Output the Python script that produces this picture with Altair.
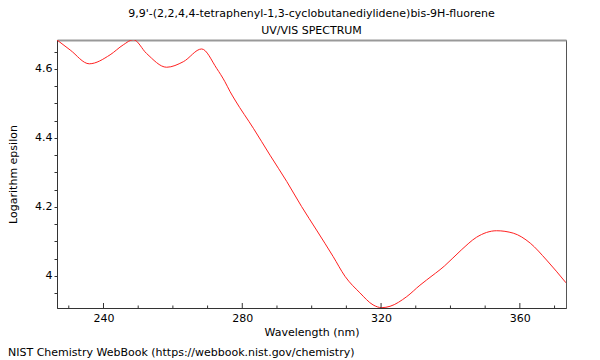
import altair as alt
import pandas as pd

title_lines = ["9,9'-(2,2,4,4-tetraphenyl-1,3-cyclobutanediylidene)bis-9H-fluorene", "UV/VIS SPECTRUM"]
credit = "NIST Chemistry WebBook (https://webbook.nist.gov/chemistry)"

wavelength = [226.6, 230.4, 235.9, 241.9, 245.7, 248.6, 252.4, 258.2, 263.0, 268.3,
              272.6, 275.0, 276.5, 277.9, 283.2, 288.0, 292.8, 297.1, 301.4, 306.2,
              309.6, 313.9, 317.7, 320.2, 322.6, 327.4, 331.2, 333.1, 338.3, 343.1,
              347.5, 353.3, 358.1, 363.0, 367.7, 373.3]
log_eps = [4.684, 4.655, 4.615, 4.641, 4.670, 4.685, 4.645, 4.605, 4.621, 4.658,
           4.602, 4.563, 4.534, 4.510, 4.428, 4.350, 4.274, 4.201, 4.133, 4.056,
           3.999, 3.951, 3.916, 3.908, 3.912, 3.940, 3.973, 3.988, 4.029, 4.075,
           4.112, 4.131, 4.124, 4.095, 4.046, 3.980]

x_major = [240, 280, 320, 360]
x_minor = [230, 250, 260, 270, 290, 300, 310, 330, 340, 350, 370]
y_ticks = [3.95, 4.0, 4.05, 4.1, 4.15, 4.2, 4.25, 4.3, 4.35, 4.4, 4.45, 4.5, 4.55, 4.6, 4.65]

X_DOMAIN = [226.6, 373.3]
Y_DOMAIN = [3.907, 4.684]
W, H = 509, 268
FONT = "DejaVu Sans"

df = pd.DataFrame({"wl": wavelength, "le": log_eps})
xs = alt.Scale(domain=X_DOMAIN, nice=False, zero=False)
ys = alt.Scale(domain=Y_DOMAIN, nice=False, zero=False)

line = alt.Chart(df).mark_line(color="#ff2020", strokeWidth=1, clip=True, interpolate="monotone").encode(
    x=alt.X("wl:Q", scale=xs,
            axis=alt.Axis(title="Wavelength (nm)", values=x_major, ticks=False, tickSize=0,
                          labelPadding=4, titlePadding=3, grid=False, domainColor="#333",
                          labelFont=FONT, titleFont=FONT, labelFontSize=11, titleFontSize=11,
                          titleFontWeight="normal", labelColor="#000", titleColor="#000")),
    y=alt.Y("le:Q", scale=ys,
            axis=alt.Axis(title="Logarithm epsilon", values=y_ticks, tickSize=3, tickColor="#333",
                          labelExpr="abs(datum.value*5 - round(datum.value*5)) < 0.001 ? format(datum.value, '.1~f') : ''",
                          labelPadding=2, titlePadding=16, grid=False, domainColor="#333",
                          labelFont=FONT, titleFont=FONT, labelFontSize=11, titleFontSize=11,
                          titleFontWeight="normal", labelColor="#000", titleColor="#000")),
)

top = alt.Chart(df).mark_point(opacity=0).encode(
    x=alt.X("wl:Q", scale=xs,
            axis=alt.Axis(orient="top", labels=False, ticks=False, title=None, grid=False,
                          domainColor="#999", domainWidth=2)),
)

maj_df = pd.DataFrame({"t": x_major})
min_df = pd.DataFrame({"t": x_minor})
maj_ticks = alt.Chart(maj_df).mark_rule(color="#333", strokeWidth=1).encode(
    x=alt.X("t:Q", scale=xs, axis=None), y=alt.value(H), y2=alt.value(H - 5))
min_ticks = alt.Chart(min_df).mark_rule(color="#333", strokeWidth=1).encode(
    x=alt.X("t:Q", scale=xs, axis=None), y=alt.value(H), y2=alt.value(H - 2.5))

credit_text = alt.Chart(pd.DataFrame({"c": [credit]})).mark_text(
    align="left", baseline="middle", font=FONT, fontSize=11, color="#000").encode(
    text="c:N", x=alt.value(-49), y=alt.value(313))

chart = alt.layer(line, top, maj_ticks, min_ticks, credit_text).resolve_axis(x="independent").properties(
    width=W, height=H,
    title=alt.TitleParams(text=title_lines, font=FONT, fontSize=11, fontWeight="normal",
                          color="#000", lineHeight=17, offset=4, anchor="middle"),
    autosize=alt.AutoSizeParams(type="none"),
    padding={"left": 49, "top": 32, "right": 26, "bottom": 52},
).configure_view(stroke="#555", strokeWidth=1)

chart.save("out.html", embed_options={"renderer": "svg", "actions": False})
